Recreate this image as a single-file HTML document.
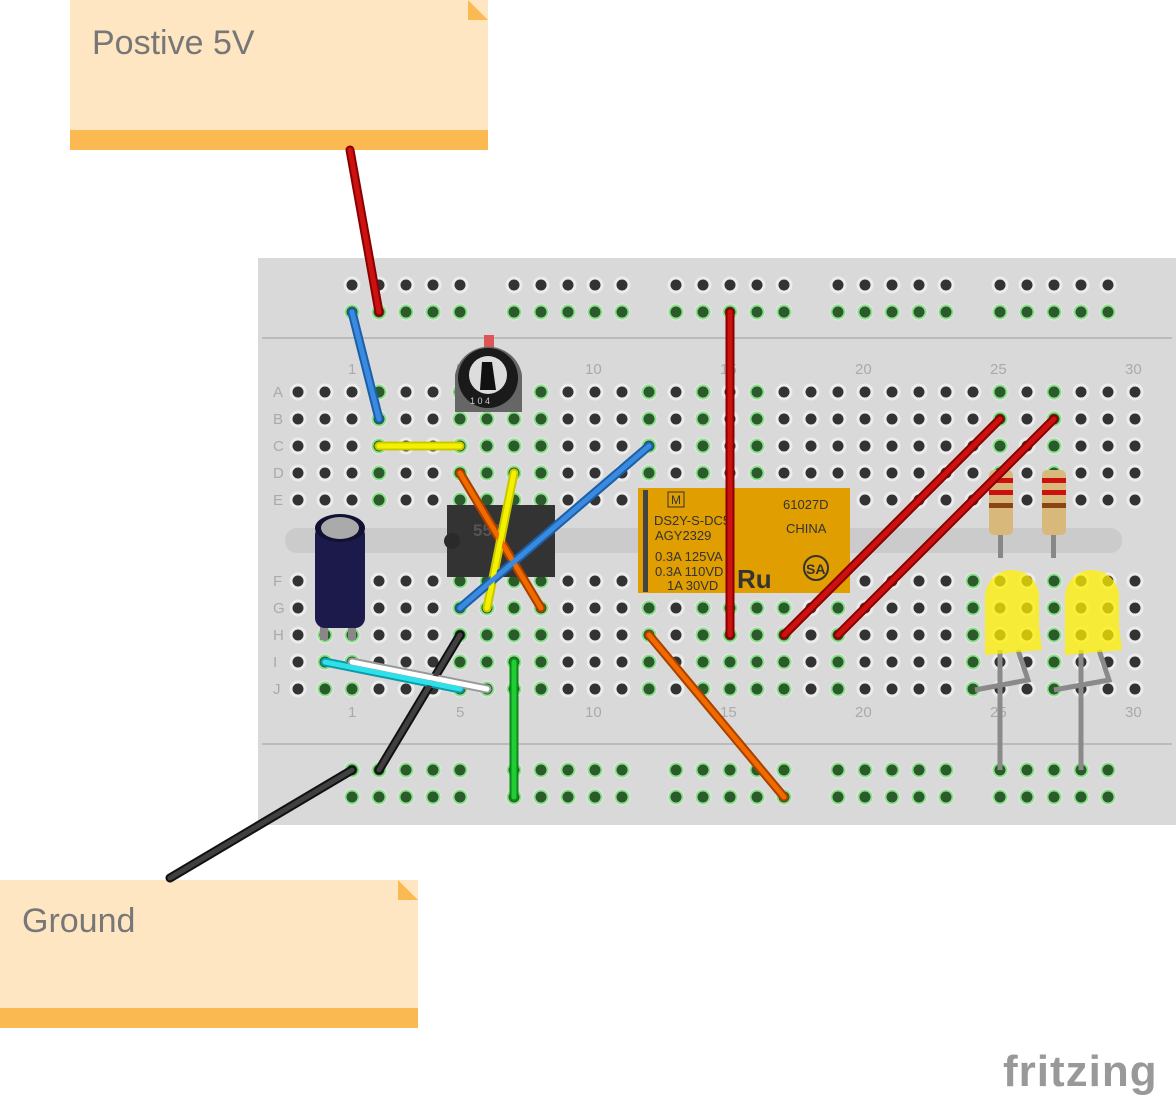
<!DOCTYPE html>
<html><head><meta charset="utf-8"><style>body{margin:0;background:#fff}svg{display:block}</style></head><body>
<svg width="1176" height="1098" viewBox="0 0 1176 1098" xmlns="http://www.w3.org/2000/svg" font-family="Liberation Sans, DejaVu Sans, sans-serif">
<defs>
<pattern id="pd" patternUnits="userSpaceOnUse" x="284.5" y="378.5" width="27" height="27"><circle cx="13.5" cy="13.5" r="8.5" fill="#ececec"/><circle cx="13.5" cy="13.5" r="5.5" fill="#333"/></pattern>
<pattern id="pg" patternUnits="userSpaceOnUse" x="284.5" y="378.5" width="27" height="27"><circle cx="13.5" cy="13.5" r="8.5" fill="#e6e6e6"/><circle cx="13.5" cy="13.5" r="7.5" fill="#8fe08f"/><circle cx="13.5" cy="13.5" r="5.5" fill="#2b5a2b"/></pattern>
<pattern id="pd2" patternUnits="userSpaceOnUse" x="284.5" y="271.5" width="27" height="27"><circle cx="13.5" cy="13.5" r="8.5" fill="#ececec"/><circle cx="13.5" cy="13.5" r="5.5" fill="#333"/></pattern>
<pattern id="pg2" patternUnits="userSpaceOnUse" x="284.5" y="271.5" width="27" height="27"><circle cx="13.5" cy="13.5" r="8.5" fill="#e6e6e6"/><circle cx="13.5" cy="13.5" r="7.5" fill="#8fe08f"/><circle cx="13.5" cy="13.5" r="5.5" fill="#2b5a2b"/></pattern>
</defs>
<!-- notes -->
<rect x="70" y="0" width="418" height="150" fill="#fee6c2"/>
<rect x="70" y="130" width="418" height="20" fill="#fbb951"/>
<polygon points="468,0 488,20 468,20" fill="#fbb951"/>
<text x="92" y="54" font-size="34" fill="#777">Postive 5V</text>
<rect x="0" y="880" width="418" height="148" fill="#fee6c2"/>
<rect x="0" y="1008" width="418" height="20" fill="#fbb951"/>
<polygon points="398,880 418,900 398,900" fill="#fbb951"/>
<text x="22" y="932" font-size="34" fill="#777">Ground</text>
<text x="1003" y="1086" font-size="44" fill="#999" font-weight="bold" letter-spacing="1">fritzing</text>
<!-- breadboard -->
<rect x="258" y="258" width="918" height="567" fill="#d9d9d9"/>
<line x1="262" y1="338" x2="1172" y2="338" stroke="#bbb" stroke-width="2"/>
<line x1="262" y1="744" x2="1172" y2="744" stroke="#bbb" stroke-width="2"/>
<rect x="285" y="528" width="837" height="25" rx="12" fill="#cbcbcb"/>
<g font-size="15" fill="#aaa">
<text x="348" y="374">1</text><text x="456" y="374">5</text><text x="585" y="374">10</text><text x="720" y="374">15</text><text x="855" y="374">20</text><text x="990" y="374">25</text><text x="1125" y="374">30</text>
<text x="348" y="717">1</text><text x="456" y="717">5</text><text x="585" y="717">10</text><text x="720" y="717">15</text><text x="855" y="717">20</text><text x="990" y="717">25</text><text x="1125" y="717">30</text>
<text x="273" y="397">A</text><text x="273" y="424">B</text><text x="273" y="451">C</text><text x="273" y="478">D</text><text x="273" y="505">E</text>
<text x="273" y="586">F</text><text x="273" y="613">G</text><text x="273" y="640">H</text><text x="273" y="667">I</text><text x="273" y="694">J</text>
</g>
<!-- holes -->
<rect x="284.5" y="378.5" width="864" height="135" fill="url(#pd)"/>
<rect x="284.5" y="567.5" width="864" height="135" fill="url(#pd)"/>
<g fill="url(#pg)">
<rect x="365.5" y="378.5" width="27" height="135"/>
<rect x="446.5" y="378.5" width="108" height="135"/>
<rect x="635.5" y="378.5" width="27" height="135"/>
<rect x="689.5" y="378.5" width="27" height="135"/>
<rect x="743.5" y="378.5" width="27" height="135"/>
<rect x="986.5" y="378.5" width="27" height="135"/>
<rect x="1040.5" y="378.5" width="27" height="135"/>
<rect x="311.5" y="567.5" width="54" height="135"/>
<rect x="446.5" y="567.5" width="108" height="135"/>
<rect x="635.5" y="567.5" width="27" height="135"/>
<rect x="689.5" y="567.5" width="108" height="135"/>
<rect x="824.5" y="567.5" width="27" height="135"/>
<rect x="959.5" y="567.5" width="27" height="135"/>
<rect x="1040.5" y="567.5" width="27" height="135"/>
<rect x="338.5" y="756.5" width="135" height="54"/><rect x="500.5" y="756.5" width="135" height="54"/><rect x="662.5" y="756.5" width="135" height="54"/><rect x="824.5" y="756.5" width="135" height="54"/><rect x="986.5" y="756.5" width="135" height="54"/>
</g>
<g fill="url(#pd2)">
<rect x="338.5" y="271.5" width="135" height="27"/><rect x="500.5" y="271.5" width="135" height="27"/><rect x="662.5" y="271.5" width="135" height="27"/><rect x="824.5" y="271.5" width="135" height="27"/><rect x="986.5" y="271.5" width="135" height="27"/>
</g>
<g fill="url(#pg2)">
<rect x="338.5" y="298.5" width="135" height="27"/><rect x="500.5" y="298.5" width="135" height="27"/><rect x="662.5" y="298.5" width="135" height="27"/><rect x="824.5" y="298.5" width="135" height="27"/><rect x="986.5" y="298.5" width="135" height="27"/>
</g>
<!-- pot -->
<rect x="484" y="335" width="10" height="14" fill="#d55"/>
<path d="M455,412 L455,375 A34,34 0 0 1 522,375 L522,412 Z" fill="#666"/>
<circle cx="488" cy="378" r="30" fill="#1a1a1a"/>
<circle cx="488" cy="375" r="19" fill="#ddd"/>
<path d="M482,362 L492,362 L496,390 L480,390 Z" fill="#111"/>
<text x="470" y="404" font-size="9" fill="#ccc">1 0 4</text>
<!-- IC -->
<rect x="447" y="505" width="108" height="72" fill="#333"/>
<circle cx="452" cy="541" r="8" fill="#2a2a2a"/>
<text x="473" y="536" font-size="17" fill="#555" font-weight="bold">555</text>
<!-- capacitor -->
<rect x="320" y="615" width="8" height="25" fill="#888"/><rect x="348" y="615" width="8" height="25" fill="#888"/>
<rect x="315" y="525" width="50" height="103" rx="10" fill="#1c1a4a"/>
<ellipse cx="340" cy="528" rx="25" ry="14" fill="#111133"/>
<ellipse cx="340" cy="528" rx="19" ry="11" fill="#aaa"/>
<!-- relay -->
<rect x="638" y="488" width="212" height="105" fill="#e09e00"/>
<rect x="643" y="490" width="5" height="102" fill="#444"/>
<g font-size="13" fill="#333">
<text x="671" y="504" font-size="12">M</text><rect x="668" y="492" width="16" height="15" fill="none" stroke="#333"/>
<text x="654" y="525">DS2Y-S-DC5</text><text x="655" y="540">AGY2329</text>
<text x="655" y="561">0.3A 125VA</text><text x="655" y="576">0.3A 110VD</text><text x="667" y="590">1A  30VD</text>
<text x="783" y="509">61027D</text><text x="786" y="533">CHINA</text>
<text x="737" y="588" font-size="26" font-weight="bold">Ru</text>
<circle cx="816" cy="568" r="12" fill="none" stroke="#333" stroke-width="2"/><text x="806" y="574" font-size="14" font-weight="bold">SA</text>
</g>
<!-- resistors -->
<g>
<rect x="998" y="530" width="5" height="28" fill="#888"/><rect x="1051" y="530" width="5" height="28" fill="#888"/>
<rect x="989" y="470" width="24" height="65" rx="5" fill="#d9b87c"/><rect x="1042" y="470" width="24" height="65" rx="5" fill="#d9b87c"/>
<g fill="#c11"><rect x="989" y="478" width="24" height="5"/><rect x="989" y="490" width="24" height="5"/><rect x="1042" y="478" width="24" height="5"/><rect x="1042" y="490" width="24" height="5"/></g>
<g fill="#8b4513"><rect x="989" y="503" width="24" height="5"/><rect x="1042" y="503" width="24" height="5"/></g>
</g>
<!-- LED legs -->
<g stroke="#8a8a8a" stroke-width="5" fill="none">
<path d="M1000,650 L1000,770"/><path d="M1018,650 L1028,680 L975,690"/>
<path d="M1081,650 L1081,770"/><path d="M1099,650 L1109,680 L1054,690"/>
</g>
<g fill="#fff000" fill-opacity="0.75">
<path d="M985,655 L985,597 A27,27 0 0 1 1039,597 L1039,625 L1042,650 L985,655Z"/>
<path d="M1065,655 L1065,597 A27,27 0 0 1 1119,597 L1119,625 L1122,650 L1065,655Z"/>
</g>
<!-- wires -->
<g stroke-linecap="round" fill="none">
<g stroke-width="9">
<line x1="350" y1="150" x2="379" y2="312" stroke="#8a0000"/>
<line x1="352" y1="312" x2="379" y2="419" stroke="#1a5fa8"/>
<line x1="379" y1="446" x2="460" y2="446" stroke="#c8c800"/>
<line x1="460" y1="473" x2="541" y2="608" stroke="#a84000"/>
<line x1="514" y1="473" x2="487" y2="608" stroke="#c8c800"/>
<line x1="649" y1="446" x2="460" y2="608" stroke="#1a5fa8"/>
<line x1="730" y1="312" x2="730" y2="635" stroke="#8a0000"/>
<line x1="1000" y1="419" x2="784" y2="635" stroke="#8a0000"/>
<line x1="1054" y1="419" x2="838" y2="635" stroke="#8a0000"/>
<line x1="649" y1="635" x2="784" y2="797" stroke="#a84000"/>
<line x1="514" y1="662" x2="514" y2="797" stroke="#0a8a1a"/>
<line x1="460" y1="635" x2="379" y2="770" stroke="#111"/>
<line x1="352" y1="770" x2="170" y2="878" stroke="#111"/>
<line x1="325" y1="662" x2="460" y2="689" stroke="#0a9aa8"/>
<line x1="352" y1="662" x2="487" y2="689" stroke="#999"/>
</g>
<g stroke-width="5">
<line x1="350" y1="150" x2="379" y2="312" stroke="#cc1111"/>
<line x1="352" y1="312" x2="379" y2="419" stroke="#3a8ae0"/>
<line x1="379" y1="446" x2="460" y2="446" stroke="#f5f000"/>
<line x1="460" y1="473" x2="541" y2="608" stroke="#f06a00"/>
<line x1="514" y1="473" x2="487" y2="608" stroke="#f5f000"/>
<line x1="649" y1="446" x2="460" y2="608" stroke="#3a8ae0"/>
<line x1="730" y1="312" x2="730" y2="635" stroke="#cc1111"/>
<line x1="1000" y1="419" x2="784" y2="635" stroke="#cc1111"/>
<line x1="1054" y1="419" x2="838" y2="635" stroke="#cc1111"/>
<line x1="649" y1="635" x2="784" y2="797" stroke="#f06a00"/>
<line x1="514" y1="662" x2="514" y2="797" stroke="#22cc33"/>
<line x1="460" y1="635" x2="379" y2="770" stroke="#404040"/>
<line x1="352" y1="770" x2="170" y2="878" stroke="#404040"/>
<line x1="325" y1="662" x2="460" y2="689" stroke="#30e0e8"/>
<line x1="352" y1="662" x2="487" y2="689" stroke="#fff"/>
</g>
</g>
</svg>
</body></html>
